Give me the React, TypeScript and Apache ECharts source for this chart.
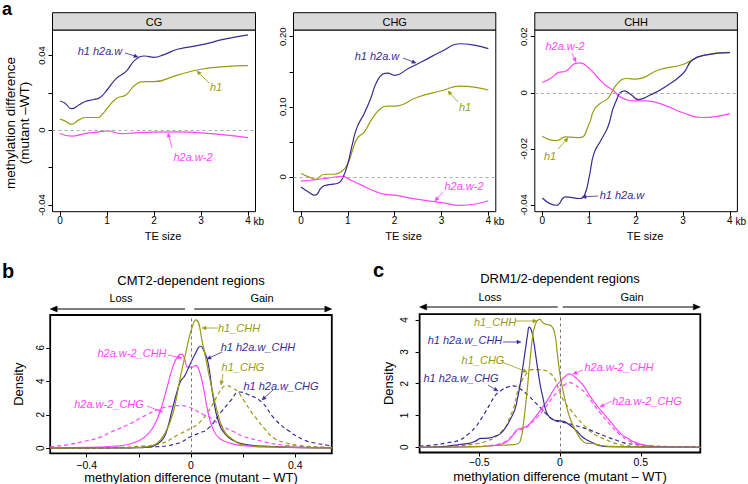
import React, { useEffect, useRef } from "react";
import * as echarts from "echarts";

const FONT = "'Liberation Sans', Arial, Helvetica, sans-serif";
const BLUE = "#3a2b92";
const OLIVE = "#9a9a10";
const MAGENTA = "#ff45ff";

// ---------- Panel a: methylation difference vs TE size ----------
const contexts = ["CG", "CHG", "CHH"];
const teTicks = [0, 1, 2, 3, 4];

const cgH1H2aw = [[0,0.0156],[0.1,0.0145],[0.25,0.0115],[0.4,0.0135],[0.55,0.0155],[0.7,0.0163],[0.85,0.0175],[1.0,0.0215],[1.2,0.0277],[1.4,0.0313],[1.6,0.0376],[1.8,0.0397],[2.0,0.039],[2.2,0.0403],[2.5,0.0433],[3.0,0.0456],[3.5,0.0487],[4.0,0.051]];
const cgH1 = [[0,0.0059],[0.1,0.005],[0.25,0.0032],[0.4,0.0055],[0.55,0.0068],[0.8,0.0068],[0.9,0.0085],[1.0,0.0116],[1.2,0.017],[1.4,0.0188],[1.6,0.0242],[1.8,0.026],[2.0,0.026],[2.5,0.0295],[3.0,0.0326],[3.5,0.034],[4.0,0.0345]];
const cgH2aw2 = [[0,-0.0018],[0.25,-0.0032],[0.5,-0.002],[0.8,-0.001],[1.0,-0.0004],[1.3,-0.0018],[1.6,-0.0014],[2.0,-0.001],[2.5,-0.0009],[3.0,-0.0014],[3.5,-0.0025],[4.0,-0.004]];

const chgH1H2aw = [[0,-0.0143],[0.15,-0.021],[0.3,-0.026],[0.45,-0.0143],[0.6,-0.011],[0.8,-0.0086],[0.9,0],[1.0,0.019],[1.1,0.0476],[1.2,0.0714],[1.35,0.0905],[1.5,0.114],[1.6,0.133],[1.75,0.1467],[1.85,0.148],[2.0,0.145],[2.3,0.155],[2.6,0.165],[3.0,0.179],[3.4,0.19],[3.7,0.188],[4.0,0.183]];
const chgH1 = [[0,0.0048],[0.2,-0.001],[0.3,-0.0033],[0.5,0.0038],[0.7,0.0038],[0.85,0.007],[1.0,0.019],[1.1,0.038],[1.2,0.055],[1.35,0.064],[1.5,0.081],[1.7,0.0976],[1.85,0.101],[2.0,0.101],[2.5,0.114],[3.0,0.123],[3.4,0.1295],[4.0,0.124]];
const chgH2aw2 = [[0,-0.006],[0.3,-0.004],[0.6,-0.0014],[0.9,0.001],[1.0,-0.0024],[1.3,-0.012],[1.6,-0.021],[1.8,-0.025],[2.0,-0.026],[2.4,-0.031],[3.0,-0.0367],[3.4,-0.0405],[4.0,-0.034]];

const chhH2aw2 = [[0,0.0037],[0.2,0.0054],[0.35,0.0073],[0.5,0.0077],[0.7,0.0105],[0.8,0.0107],[1.0,0.0087],[1.2,0.0051],[1.35,0.0027],[1.5,0.001],[1.7,-0.0018],[2.0,-0.0029],[2.2,-0.0029],[2.6,-0.0044],[3.0,-0.0071],[3.4,-0.0088],[4.0,-0.0074]];
const chhH1 = [[0,-0.0155],[0.3,-0.0171],[0.5,-0.0157],[0.8,-0.016],[1.0,-0.011],[1.1,-0.0062],[1.25,-0.0036],[1.4,-0.002],[1.6,0.0033],[1.8,0.0051],[2.0,0.0049],[2.5,0.0083],[3.0,0.0101],[3.4,0.0132],[4.0,0.0144]];
const chhH1H2aw = [[0,-0.0375],[0.3,-0.0401],[0.5,-0.0371],[0.8,-0.0377],[0.9,-0.0365],[1.0,-0.03],[1.1,-0.0217],[1.25,-0.0169],[1.4,-0.0121],[1.55,-0.0038],[1.75,0.0007],[1.9,-0.0008],[2.05,-0.0024],[2.3,-0.0008],[2.6,0.0019],[3.0,0.0069],[3.2,0.0117],[3.5,0.0135],[4.0,0.0143]];

const aYTicks = [[-0.04,-0.02,0,0.02,0.04],[0,0.05,0.1,0.15,0.2],[-0.04,-0.02,0,0.02]];
const aYLabels = [[-0.04,0,0.04],[0,0.1,0.2],[-0.04,-0.02,0,0.02]];
const aYLim = [[-0.0436,0.0536],[-0.0496,0.2096],[-0.0424,0.0224]];
const aXLim = [-0.16, 4.16];

// ---------- Panel b: CMT2-dependent regions ----------
const bH1CHH = [[-0.54,0],[-0.3,0.02],[-0.2,0.05],[-0.16,0.12],[-0.13,0.3],[-0.1,0.9],[-0.075,1.8],[-0.06,2.7],[-0.04,4.3],[-0.02,5.7],[0,7.0],[0.019,7.66],[0.046,6.15],[0.072,4.16],[0.101,2.17],[0.123,1.17],[0.155,0.58],[0.21,0.18],[0.31,0.08],[0.54,0.02]];
const bH1H2awCHH = [[-0.54,0],[-0.3,0.02],[-0.2,0.04],[-0.157,0.08],[-0.125,0.3],[-0.106,0.58],[-0.09,1.2],[-0.074,2.17],[-0.055,3.3],[-0.04,4.0],[-0.025,4.3],[-0.004,5.0],[0.015,5.6],[0.037,6.09],[0.05,5.8],[0.065,5.15],[0.084,3.16],[0.106,1.57],[0.135,0.78],[0.165,0.45],[0.193,0.28],[0.25,0.15],[0.295,0.12],[0.4,0.05],[0.54,0.02]];
const bH2aw2CHH = [[-0.54,0.02],[-0.4,0.05],[-0.3,0.12],[-0.246,0.21],[-0.196,0.48],[-0.164,0.87],[-0.14,1.4],[-0.119,2.17],[-0.093,3.56],[-0.068,4.95],[-0.05,5.5],[-0.036,5.62],[-0.025,5.35],[-0.012,4.85],[0.005,4.85],[0.018,4.95],[0.03,4.7],[0.046,3.76],[0.065,2.17],[0.084,1.17],[0.11,0.58],[0.155,0.28],[0.2,0.15],[0.3,0.07],[0.54,0.02]];
const bH1CHG = [[-0.54,0],[-0.3,0.05],[-0.2,0.12],[-0.119,0.27],[-0.05,0.8],[0,1.2],[0.03,1.5],[0.065,2.17],[0.1,3.1],[0.12,3.6],[0.135,3.75],[0.16,3.6],[0.18,3.36],[0.205,2.8],[0.231,2.17],[0.252,1.75],[0.282,1.17],[0.32,0.58],[0.36,0.35],[0.41,0.18],[0.48,0.08],[0.54,0.04]];
const bH1H2awCHG = [[-0.54,0],[-0.3,0.03],[-0.157,0.08],[-0.055,0.27],[0,0.7],[0.03,0.9],[0.065,1.17],[0.116,2.17],[0.15,2.8],[0.187,3.36],[0.22,3.2],[0.27,2.77],[0.32,1.77],[0.372,1.07],[0.436,0.48],[0.48,0.3],[0.525,0.18],[0.54,0.15]];
const bH2aw2CHG = [[-0.54,0.1],[-0.477,0.2],[-0.4,0.45],[-0.349,0.65],[-0.31,0.95],[-0.246,1.37],[-0.17,2.0],[-0.119,2.36],[-0.07,2.52],[-0.042,2.55],[-0.011,2.47],[0.052,1.97],[0.073,1.85],[0.116,1.35],[0.162,1.0],[0.2,0.72],[0.277,0.4],[0.31,0.28],[0.39,0.15],[0.54,0.05]];

const bXTicks = [-0.4,-0.2,0,0.2,0.4];
const bXLabels = [-0.4,0,0.4];
const bYTicks = [0,2,4,6];
const bXLim = [-0.54, 0.54];
const bYLim = [-0.306, 7.956];

// ---------- Panel c: DRM1/2-dependent regions ----------
const cH1CHH = [[-0.868,0],[-0.5,0.02],[-0.39,0.06],[-0.3,0.08],[-0.257,0.12],[-0.24,0.3],[-0.227,0.7],[-0.206,1.63],[-0.186,2.68],[-0.165,3.62],[-0.145,3.95],[-0.124,4.02],[-0.11,3.95],[-0.094,3.88],[-0.07,3.85],[-0.053,3.82],[-0.033,3.6],[-0.015,2.9],[0,2.3],[0.02,1.75],[0.04,1.3],[0.06,0.95],[0.08,0.7],[0.11,0.4],[0.14,0.2],[0.17,0.12],[0.2,0.12],[0.23,0.08],[0.3,0.03],[0.868,0]];
const cH1H2awCHH = [[-0.868,0],[-0.7,0.03],[-0.665,0.06],[-0.6,0.1],[-0.563,0.12],[-0.52,0.2],[-0.49,0.28],[-0.46,0.28],[-0.43,0.3],[-0.4,0.35],[-0.37,0.42],[-0.339,0.6],[-0.31,0.85],[-0.278,1.2],[-0.26,1.6],[-0.247,1.95],[-0.23,2.5],[-0.216,2.99],[-0.2,3.55],[-0.19,3.78],[-0.178,3.7],[-0.165,3.41],[-0.15,2.9],[-0.135,2.37],[-0.12,1.9],[-0.104,1.53],[-0.09,1.2],[-0.073,1.0],[-0.05,0.9],[-0.033,0.85],[0,0.83],[0.03,0.8],[0.049,0.74],[0.08,0.62],[0.11,0.48],[0.14,0.32],[0.171,0.22],[0.2,0.15],[0.24,0.06],[0.3,0.02],[0.868,0]];
const cH1CHG = [[-0.868,0],[-0.665,0.04],[-0.502,0.12],[-0.45,0.2],[-0.4,0.32],[-0.36,0.5],[-0.329,0.69],[-0.31,0.95],[-0.288,1.21],[-0.257,1.84],[-0.235,2.1],[-0.216,2.26],[-0.195,2.38],[-0.176,2.44],[-0.14,2.44],[-0.094,2.42],[-0.06,2.32],[-0.033,2.16],[-0.01,1.85],[0.008,1.63],[0.029,1.42],[0.07,1.15],[0.11,0.9],[0.15,0.68],[0.192,0.48],[0.24,0.33],[0.294,0.22],[0.34,0.12],[0.4,0.06],[0.5,0.02],[0.868,0]];
const cH1H2awCHG = [[-0.868,0.04],[-0.767,0.08],[-0.7,0.14],[-0.624,0.22],[-0.57,0.4],[-0.522,0.64],[-0.49,0.87],[-0.461,1.11],[-0.43,1.38],[-0.4,1.63],[-0.36,1.8],[-0.32,1.9],[-0.29,1.93],[-0.25,1.85],[-0.196,1.63],[-0.155,1.42],[-0.114,1.21],[-0.085,1.05],[-0.053,0.9],[-0.02,0.82],[0.008,0.8],[0.05,0.75],[0.09,0.69],[0.14,0.62],[0.192,0.53],[0.24,0.43],[0.294,0.32],[0.35,0.22],[0.396,0.14],[0.46,0.09],[0.518,0.06],[0.6,0.03],[0.868,0.01]];
const cH2aw2CHH = [[-0.868,0],[-0.5,0.02],[-0.4,0.06],[-0.35,0.12],[-0.318,0.22],[-0.29,0.38],[-0.265,0.55],[-0.235,0.6],[-0.2,0.68],[-0.176,0.8],[-0.145,1.0],[-0.114,1.21],[-0.08,1.45],[-0.053,1.69],[-0.02,1.95],[0.008,2.1],[0.03,2.22],[0.059,2.31],[0.09,2.22],[0.12,2.08],[0.151,1.9],[0.18,1.66],[0.212,1.42],[0.253,1.16],[0.314,0.8],[0.376,0.43],[0.42,0.28],[0.457,0.17],[0.52,0.07],[0.58,0.03],[0.868,0]];
const cH2aw2CHG = [[-0.868,0],[-0.5,0.03],[-0.4,0.08],[-0.35,0.15],[-0.318,0.25],[-0.29,0.4],[-0.265,0.52],[-0.235,0.56],[-0.2,0.65],[-0.176,0.76],[-0.145,0.92],[-0.114,1.1],[-0.08,1.32],[-0.053,1.52],[-0.02,1.72],[0.008,1.87],[0.03,1.97],[0.059,2.03],[0.09,1.97],[0.12,1.86],[0.151,1.74],[0.18,1.55],[0.212,1.32],[0.253,1.06],[0.314,0.69],[0.376,0.37],[0.42,0.22],[0.457,0.13],[0.52,0.06],[0.6,0.02],[0.868,0]];

const cXTicks = [-0.5,0,0.5];
const cYTicks = [0,1,2,3,4];
const cXLim = [-0.868, 0.868];
const cYLim = [-0.165, 4.185];

// ---------- layout ----------
const GRIDS = [
  { left: 52.5, top: 30, width: 203, height: 181.7 },
  { left: 293.5, top: 30, width: 202.3, height: 181.7 },
  { left: 534.8, top: 30, width: 202.6, height: 181.7 },
  { left: 50.2, top: 315, width: 281.6, height: 138.4 },
  { left: 419.6, top: 314.2, width: 280.7, height: 138.3 },
];

const minus = (v: number, d: number) => (v === 0 ? "0" : (v < 0 ? "\u2212" : "") + Math.abs(v).toFixed(d));

function lineSeries(data: number[][], color: string, idx: number, dashed = false, extra: any = {}) {
  return {
    type: "line",
    data,
    xAxisIndex: idx,
    yAxisIndex: idx,
    showSymbol: false,
    symbol: "none",
    smooth: 0.5,
    silent: true,
    lineStyle: { color, width: 1.2, type: dashed ? [4, 3] : "solid" },
    z: 3,
    ...extra,
  };
}

function zeroLine(axis: "x" | "y", color: string) {
  return {
    markLine: {
      silent: true,
      symbol: ["none", "none"],
      label: { show: false },
      lineStyle: { color, type: [3, 3], width: 1 },
      data: [axis === "y" ? { yAxis: 0 } : { xAxis: 0 }],
    },
  };
}

function buildOption() {
  const grid = GRIDS.map((g, i) => ({
    ...g,
    show: true,
    borderColor: "#000",
    borderWidth: i < 3 ? 1 : 1.8,
    backgroundColor: "transparent",
    containLabel: false,
  }));
  const tickStyle = { color: "#000", width: 1 };
  const xAxis: any[] = [];
  const yAxis: any[] = [];
  for (let i = 0; i < 3; i++) {
    xAxis.push({
      type: "value", gridIndex: i, min: aXLim[0], max: aXLim[1],
      axisLine: { show: false, onZero: false },
      axisTick: { show: true, length: 4, customValues: teTicks, lineStyle: tickStyle },
      axisLabel: { customValues: teTicks, fontSize: 10, fontFamily: FONT, color: "#000", margin: 4, formatter: (v: number) => String(v) },
      splitLine: { show: false },
    });
    yAxis.push({
      type: "value", gridIndex: i, min: aYLim[i][0], max: aYLim[i][1],
      axisLine: { show: false, onZero: false },
      axisTick: { show: true, length: 4, customValues: aYTicks[i], lineStyle: tickStyle },
      axisLabel: { customValues: aYLabels[i], rotate: 90, fontSize: 9.5, fontFamily: FONT, color: "#000", margin: 6,
        formatter: (v: number) => (Math.abs(v) < 1e-9 ? "0" : v.toFixed(2)) },
      splitLine: { show: false },
    });
  }
  xAxis.push({
    type: "value", gridIndex: 3, min: bXLim[0], max: bXLim[1],
    axisLine: { show: false, onZero: false },
    axisTick: { show: true, length: 4, customValues: bXTicks, lineStyle: tickStyle },
    axisLabel: { customValues: bXLabels, fontSize: 10.5, fontFamily: FONT, color: "#000", margin: 6, formatter: (v: number) => minus(v, 1) },
    splitLine: { show: false },
  });
  yAxis.push({
    type: "value", gridIndex: 3, min: bYLim[0], max: bYLim[1],
    axisLine: { show: false, onZero: false },
    axisTick: { show: true, length: 4, customValues: bYTicks, lineStyle: tickStyle },
    axisLabel: { customValues: bYTicks, rotate: 90, fontSize: 10, fontFamily: FONT, color: "#000", margin: 5, formatter: (v: number) => String(v) },
    splitLine: { show: false },
  });
  xAxis.push({
    type: "value", gridIndex: 4, min: cXLim[0], max: cXLim[1],
    axisLine: { show: false, onZero: false },
    axisTick: { show: true, length: 4, customValues: cXTicks, lineStyle: tickStyle },
    axisLabel: { customValues: cXTicks, fontSize: 10.5, fontFamily: FONT, color: "#000", margin: 4, formatter: (v: number) => minus(v, 1) },
    splitLine: { show: false },
  });
  yAxis.push({
    type: "value", gridIndex: 4, min: cYLim[0], max: cYLim[1],
    axisLine: { show: false, onZero: false },
    axisTick: { show: true, length: 4, customValues: cYTicks, lineStyle: tickStyle },
    axisLabel: { customValues: cYTicks, rotate: 90, fontSize: 10, fontFamily: FONT, color: "#000", margin: 10, formatter: (v: number) => String(v) },
    splitLine: { show: false },
  });

  const series: any[] = [
    lineSeries(cgH2aw2, MAGENTA, 0, false, zeroLine("y", "#aaaaaa")),
    lineSeries(cgH1, OLIVE, 0),
    lineSeries(cgH1H2aw, BLUE, 0),
    lineSeries(chgH2aw2, MAGENTA, 1, false, zeroLine("y", "#aaaaaa")),
    lineSeries(chgH1, OLIVE, 1),
    lineSeries(chgH1H2aw, BLUE, 1),
    lineSeries(chhH2aw2, MAGENTA, 2, false, zeroLine("y", "#aaaaaa")),
    lineSeries(chhH1, OLIVE, 2),
    lineSeries(chhH1H2aw, BLUE, 2),

    lineSeries(bH2aw2CHG, MAGENTA, 3, true, zeroLine("x", "#777777")),
    lineSeries(bH1CHG, OLIVE, 3, true),
    lineSeries(bH1H2awCHG, BLUE, 3, true),
    lineSeries(bH2aw2CHH, MAGENTA, 3),
    lineSeries(bH1H2awCHH, BLUE, 3),
    lineSeries(bH1CHH, OLIVE, 3),

    lineSeries(cH1H2awCHG, BLUE, 4, true, zeroLine("x", "#777777")),
    lineSeries(cH1CHG, OLIVE, 4, true),
    lineSeries(cH2aw2CHG, MAGENTA, 4, true),
    lineSeries(cH2aw2CHH, MAGENTA, 4),
    lineSeries(cH1H2awCHH, BLUE, 4),
    lineSeries(cH1CHH, OLIVE, 4),
  ];

  return { animation: false, backgroundColor: "#fff", grid, xAxis, yAxis, series };
}

function txt(x: number, y: number, text: string, o: any = {}) {
  return {
    type: "text", x, y, rotation: o.rotation || 0, silent: true, z: 10,
    style: {
      text, fill: o.color || "#000", fontSize: o.size || 11, fontFamily: FONT,
      fontStyle: o.italic ? "italic" : "normal", fontWeight: o.bold ? "bold" : "normal",
      textAlign: o.align || "center", textVerticalAlign: o.valign || "middle",
    },
  };
}

function arrow(x1: number, y1: number, x2: number, y2: number, color: string, head = 4, hw = 1.8, lw = 0.8) {
  const dx = x2 - x1, dy = y2 - y1;
  const L = Math.hypot(dx, dy) || 1;
  const ux = dx / L, uy = dy / L;
  const bx = x2 - ux * head, by = y2 - uy * head;
  const nx = -uy, ny = ux;
  return [
    { type: "line", silent: true, z: 10, shape: { x1, y1, x2: bx, y2: by }, style: { stroke: color, lineWidth: lw } },
    { type: "polygon", silent: true, z: 10,
      shape: { points: [[x2, y2], [bx + nx * hw, by + ny * hw], [bx - nx * hw, by - ny * hw]] },
      style: { fill: color, stroke: color, lineWidth: 0.5 } },
  ];
}

function buildGraphics(chart: any) {
  const g: any[] = [];
  // strips
  for (let i = 0; i < 3; i++) {
    const gr = GRIDS[i];
    g.push({ type: "rect", silent: true, z: 5, shape: { x: gr.left, y: 12.7, width: gr.width, height: 17.3 },
      style: { fill: "#d9d9d9", stroke: "#000", lineWidth: 1 } });
    g.push(txt(gr.left + gr.width / 2, 21.6, contexts[i], { size: 11 }));
    g.push(txt(gr.left + gr.width / 2 + 9, 235.5, "TE size", { size: 11 }));
    const p = chart.convertToPixel({ gridIndex: i }, [4, 0]);
    g.push(txt(p[0] + 5.5, 221, "kb", { size: 10, align: "left" }));
  }
  // panel letters
  g.push(txt(2, 0, "a", { size: 18, bold: true, align: "left", valign: "top" }));
  g.push(txt(2, 271, "b", { size: 20, bold: true, align: "left" }));
  g.push(txt(373, 270, "c", { size: 20, bold: true, align: "left" }));
  // y title of a
  g.push(txt(10, 123, "methylation difference", { size: 13.5, rotation: Math.PI / 2 }));
  g.push(txt(24.5, 123, "(mutant \u2013WT)", { size: 13.5, rotation: Math.PI / 2 }));

  // panel b/c titles and axis titles
  const bc = [
    { gi: 3, title: "CMT2-dependent regions", ty: 280, ly: 298, ay: 309, lossX: 121, gainX: 262, midL: 185, midR: 194.3, dens: 18, xt: 477 },
    { gi: 4, title: "DRM1/2-dependent regions", ty: 278, ly: 297, ay: 307, lossX: 490, gainX: 632, midL: 557.7, midR: 562.7, dens: 388, xt: 476 },
  ];
  for (const p of bc) {
    const gr = GRIDS[p.gi];
    const cx = p.gi === 3 ? 191 : 560;
    g.push(txt(cx, p.ty, p.title, { size: 13 }));
    g.push(txt(p.lossX, p.ly, "Loss", { size: 11 }));
    g.push(txt(p.gainX, p.ly, "Gain", { size: 11 }));
    g.push(...arrow(p.midL, p.ay, gr.left, p.ay, "#000", 7, 3, 1));
    g.push(...arrow(p.midR, p.ay, gr.left + gr.width, p.ay, "#000", 7, 3, 1));
    g.push(txt(p.dens, gr.top + gr.height / 2, "Density", { size: 13, rotation: Math.PI / 2 }));
    g.push(txt(cx, p.xt, "methylation difference (mutant \u2013 WT)", { size: 13 }));
  }

  // annotations: [text, color, textX, textY, arrow x1, y1, x2, y2]
  const ann: [string, string, number, number, number, number, number, number][] = [
    ["h1 h2a.w", BLUE, 100, 51, 125, 53, 138, 57],
    ["h1", OLIVE, 216, 87, 209, 83, 197, 71],
    ["h2a.w-2", MAGENTA, 193, 157, 172, 148, 168, 133],
    ["h1 h2a.w", BLUE, 377, 56, 403, 58, 416, 63],
    ["h1", OLIVE, 465, 107, 458, 102, 448, 91],
    ["h2a.w-2", MAGENTA, 464, 186, 443, 192, 435, 201],
    ["h2a.w-2", MAGENTA, 565, 46, 572, 53, 576, 62],
    ["h1", OLIVE, 550, 156, 558, 149, 568, 138],
    ["h1 h2a.w", BLUE, 622, 195, 598, 196, 582, 197],
    ["h1_CHH", OLIVE, 239, 328, 218, 328, 202, 328],
    ["h1 h2a.w_CHH", BLUE, 258, 347, 222, 352, 207, 359],
    ["h1_CHG", OLIVE, 243, 367, 223, 374, 221, 385],
    ["h1 h2a.w_CHG", BLUE, 281, 386, 273, 390, 262, 400],
    ["h2a.w-2_CHH", MAGENTA, 132, 353, 168, 355, 182, 358],
    ["h2a.w-2_CHG", MAGENTA, 109, 404, 147, 406, 163, 412],
    ["h1_CHH", OLIVE, 495, 322, 515, 321, 537, 321],
    ["h1 h2a.w_CHH", BLUE, 465, 340, 503, 342, 521, 342],
    ["h1_CHG", OLIVE, 483, 360, 502, 362, 527, 372],
    ["h1 h2a.w_CHG", BLUE, 461, 378, 488, 385, 498, 391],
    ["h2a.w-2_CHH", MAGENTA, 619, 367, 583, 370, 573, 374],
    ["h2a.w-2_CHG", MAGENTA, 647, 401, 612, 401, 600, 407],
  ];
  for (const a of ann) {
    g.push(txt(a[2], a[3], a[0], { size: 11, italic: true, color: a[1] }));
    g.push(...arrow(a[4], a[5], a[6], a[7], a[1], 4, 1.8, 0.8));
  }
  return g;
}

export default function App() {
  const ref = useRef<HTMLDivElement>(null);
  useEffect(() => {
    const chart = echarts.init(ref.current!, null, { renderer: "svg" });
    chart.setOption(buildOption());
    chart.setOption({ graphic: buildGraphics(chart) });
    return () => chart.dispose();
  }, []);
  return <div ref={ref} style={{ position: "absolute", left: 0, top: 0, width: 748, height: 484, background: "#fff" }} />;
}
